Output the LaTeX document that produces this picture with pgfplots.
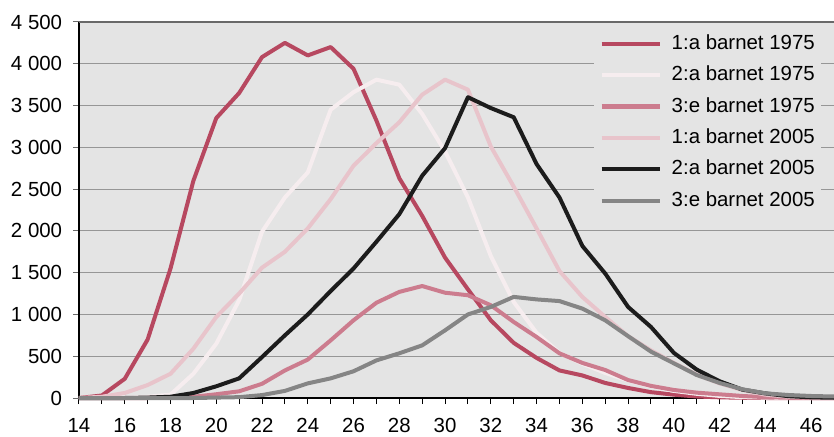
\documentclass[border=0pt]{standalone}
\usepackage{fontspec}
\setmainfont{Liberation Sans}
\usepackage{pgfplots}
\pgfplotsset{compat=1.18}
\usepackage{pgfplotstable}

\definecolor{plotbg}{RGB}{228,228,228}
\definecolor{gridc}{RGB}{150,150,150}
\definecolor{topc}{RGB}{105,105,105}
\definecolor{fa75}{RGB}{183,72,96}
\definecolor{sa75}{RGB}{246,237,239}
\definecolor{te75}{RGB}{204,124,142}
\definecolor{fa05}{RGB}{232,196,203}
\definecolor{sa05}{RGB}{28,28,28}
\definecolor{te05}{RGB}{133,133,133}

% alder, barn per serie
\pgfplotstableread{
x  fa75 sa75 te75 fa05 sa05 te05
14 0    0    0    0    0    0
15 30   0    0    15   0    0
16 230  5    0    60   0    0
17 700  15   0    155  5    0
18 1550 40   5    290  15   0
19 2600 290  15   590  60   0
20 3350 650  45   970  140  5
21 3650 1170 80   1250 235  10
22 4080 1990 170  1560 490  35
23 4250 2400 330  1750 750  85
24 4100 2700 460  2030 1000 175
25 4200 3450 690  2380 1280 235
26 3940 3660 930  2780 1550 320
27 3320 3810 1140 3050 1870 450
28 2630 3750 1270 3300 2200 535
29 2180 3400 1340 3630 2660 630
30 1680 2950 1260 3810 2990 810
31 1300 2400 1230 3690 3600 1000
32 930  1700 1110 3010 3470 1090
33 660  1150 910  2530 3360 1210
34 480  780  730  2030 2800 1180
35 330  540  535  1520 2400 1160
36 270  410  420  1210 1820 1070
37 180  300  335  970  1490 930
38 120  210  215  740  1090 740
39 70   140  145  570  850  555
40 40   85   96   420  540  415
41 18   50   64   280  340  275
42 8    25   44   175  200  180
43 3    10   24   95   100  104
44 0    5    10   40   55   56
45 0    0    3    15   22   36
46 0    0    0    5    8    24
47 0    0    0    0    3    18
}\births

\begin{document}
\begin{tikzpicture}
\begin{axis}[
  scale only axis,
  width=755bp, height=376bp,
  xmin=14, xmax=47, ymin=0, ymax=4500,
  clip=false,
  axis lines=left,
  axis line style={-, black, line width=1.2bp},
  axis background/.style={fill=plotbg},
  xtick={14,16,...,46},
  minor xtick={15,17,...,47},
  ytick={0,500,...,4000},
  extra y ticks={4500},
  extra y tick style={grid style={topc, line width=1.2bp}},
  ymajorgrids,
  grid style={gridc, line width=1bp},
  tick align=outside,
  major tick length=6bp, minor tick length=6bp,
  tick style={black, line width=1bp},
  ytick style={topc},
  ticklabel style={font=\fontsize{20.5}{24}\selectfont, inner sep=0pt},
  yticklabel style={anchor=east, xshift=-10.7bp},
  xticklabel style={anchor=north, yshift=-14.5bp},
  /pgf/number format/assume math mode=true,
  /pgf/number format/1000 sep={\ },
  legend style={at={(rel axis cs:1,1)}, anchor=north east,
    xshift=-13bp, yshift=-6bp,
    fill=plotbg, draw=none, font=\fontsize{20.5}{24}\selectfont,
    inner xsep=6bp, inner ysep=6bp,
    nodes={inner sep=0pt, text height=15bp, text depth=4bp},
    row sep=12.4bp,
    /tikz/every odd column/.append style={column sep=10bp}},
  legend cell align=left,
  legend image code/.code={\draw[#1] (0bp,0bp) -- (58bp,0bp);},
  every axis plot/.append style={line width=4bp, line join=round},
]
\addplot[fa75] table[x=x, y=fa75] {\births};
\addplot[sa75] table[x=x, y=sa75] {\births};
\addplot[te75] table[x=x, y=te75] {\births};
\addplot[fa05] table[x=x, y=fa05] {\births};
\addplot[sa05] table[x=x, y=sa05] {\births};
\addplot[te05] table[x=x, y=te05] {\births};
\legend{1:a barnet 1975, 2:a barnet 1975, 3:e barnet 1975,
  1:a barnet 2005, 2:a barnet 2005, 3:e barnet 2005}
\end{axis}
\pgfresetboundingbox
\path[use as bounding box] ([shift={(-79bp,-39bp)}]current axis.south west)
  rectangle ([shift={(0bp,22bp)}]current axis.north east);
\end{tikzpicture}
\end{document}
